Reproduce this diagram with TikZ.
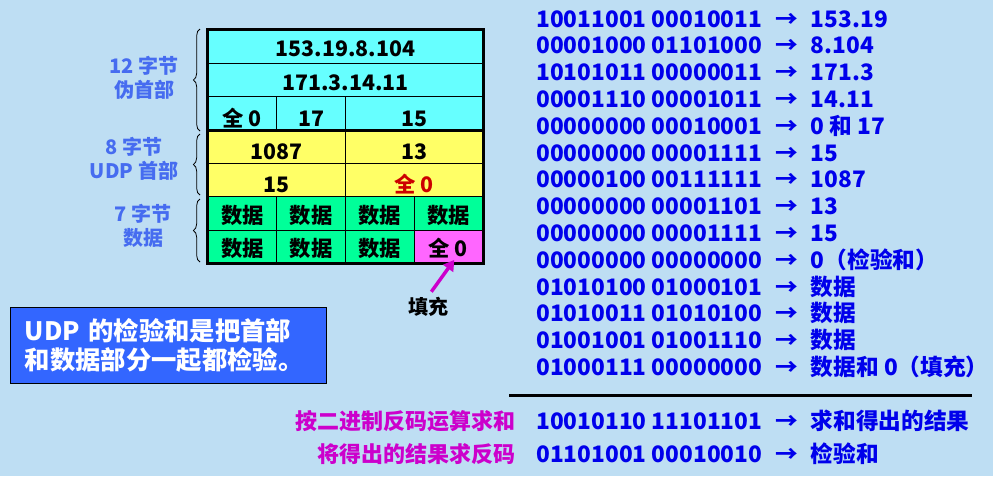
\documentclass[tikz,border=0pt]{standalone}
\usepackage{fontspec}
\setmainfont{Noto Sans CJK SC}
\usetikzlibrary{decorations.pathreplacing,arrows.meta}

\definecolor{bgblue}{RGB}{190,222,243}
\definecolor{pscyan}{RGB}{102,255,255}
\definecolor{udpyellow}{RGB}{255,255,102}
\definecolor{datagreen}{RGB}{0,255,153}
\definecolor{padpink}{RGB}{255,102,255}
\definecolor{notebox}{RGB}{51,102,255}
\definecolor{bitblue}{RGB}{0,0,235}
\definecolor{sideblue}{RGB}{70,108,240}
\definecolor{opmagenta}{RGB}{204,0,204}
\definecolor{zerored}{RGB}{204,0,0}

\newcommand{\low}[1]{\raisebox{-2pt}[\height][\depth]{#1}}

\tikzset{
  cell/.style={draw=black, line width=0.7pt, minimum height=25pt, minimum width=51.5pt,
    inner sep=0pt, text height=15pt, text depth=0pt, font=\fontsize{16}{18}\selectfont\bfseries},
  wide/.style={cell, minimum width=103pt},
  full/.style={cell, minimum width=206pt},
  side/.style={align=center, text=sideblue, inner sep=0pt, font=\fontsize{15}{18}\selectfont\bfseries},
  sidebrace/.style={decorate, decoration={brace, amplitude=5pt}, line width=0.6pt},
  bits/.style={anchor=west, text=bitblue, inner sep=0pt, text height=12pt, text depth=0pt,
    font=\fontsize{17}{20}\selectfont\bfseries},
  arrowtxt/.style={bits, anchor=center},
  optxt/.style={anchor=east, text=opmagenta, inner sep=0pt, text height=12pt, text depth=0pt,
    font=\fontsize{16.5}{20}\selectfont\bfseries},
  padarrow/.style={draw=opmagenta, line width=2.6pt, -{Triangle[length=8pt,width=9pt]}},
}

\begin{document}
\begin{tikzpicture}[x=1pt, y=-1pt]

\useasboundingbox (0,0) rectangle (744.75,357);
\fill[bgblue] (0,0) rectangle (744.75,357);

% pseudo header
\node[full, fill=pscyan] (ph1) at (259,35) {153.19.8.104};
\node[full, fill=pscyan] (ph2) at (259,60) {171.3.14.11};
\node[cell, fill=pscyan] (ph3) at (181.75,85) {\low{全 0}};
\node[cell, fill=pscyan] (ph4) at (233.25,85) {\low{17}};
\node[wide, fill=pscyan] (ph5) at (310.5,85) {\low{15}};

% udp header
\node[wide, fill=udpyellow] (uh1) at (207.5,110) {\low{1087}};
\node[wide, fill=udpyellow] (uh2) at (310.5,110) {\low{13}};
\node[wide, fill=udpyellow] (uh3) at (207.5,135) {\low{15}};
\node[wide, fill=udpyellow, text=zerored] (uh4) at (310.5,135) {\low{全 0}};

% data
\node[cell, fill=datagreen] (d1) at (181.75,160) {数据};
\node[cell, fill=datagreen] (d2) at (233.25,160) {数据};
\node[cell, fill=datagreen] (d3) at (284.75,160) {数据};
\node[cell, fill=datagreen] (d4) at (336.25,160) {数据};
\node[cell, fill=datagreen] (d5) at (181.75,185) {数据};
\node[cell, fill=datagreen] (d6) at (233.25,185) {数据};
\node[cell, fill=datagreen] (d7) at (284.75,185) {数据};
\node[cell, fill=padpink] (pad) at (336.25,185) {全 0};

\draw[line width=2.2pt] (ph1.north west) rectangle (pad.south east);
\draw[line width=2.2pt] (ph3.south west) -- (ph5.south east);

\node[side] (lab1) at (108,58.1) {12 字节\\伪首部};
\node[side] (lab2) at (100.5,118.9) {8 字节\\UDP 首部};
\node[side] (lab3) at (107.5,169.1) {7 字节\\数据};
\draw[sidebrace] (150,98.25) -- (150,21.75);
\draw[sidebrace] (150,146.25) -- (150,100.5);
\draw[sidebrace] (150,196.5) -- (150,149.25);

\node[font=\fontsize{15}{18}\selectfont\bfseries, inner sep=0pt] (fill) at (321,230.25) {填充};
\draw[padarrow] ([xshift=2.5pt,yshift=4pt]fill.north) -- ([xshift=4.5pt,yshift=3pt]pad.south);

\node[draw=black, line width=0.7pt, fill=notebox, text=white, minimum width=237pt, minimum height=57pt,
  inner xsep=11.25pt, text width=214.5pt, align=left, font=\fontsize{19}{21.75}\selectfont\bfseries]
  (note) at (126,258.75) {UDP 的检验和是把首部\\和数据部分一起都检验。};

% sixteen bit words
\foreach \bin/\res [count=\i] in {10011001 00010011/153.19, 00001000 01101000/8.104,
  10101011 00000011/171.3, 00001110 00001011/14.11, 00000000 00010001/0 和 17,
  00000000 00001111/15, 00000100 00111111/1087, 00000000 00001101/13,
  00000000 00001111/15, 00000000 00000000/0（检验和）, 01010100 01000101/数据,
  01010011 01010100/数据, 01001001 01001110/数据, 01000111 00000000/数据和 0（填充）}
{
  \node[bits] (b\i) at (402,{14.25+20.1*(\i-1)}) {\bin};
  \node[arrowtxt] (a\i) at (590,{14.25+20.1*(\i-1)}) {→};
  \node[bits] (r\i) at (608,{14.25+20.1*(\i-1)}) {\res};
}

\coordinate (rulel) at (381.75,296.25);
\coordinate (ruler) at (729,296.25);
\draw[line width=2.25pt] (rulel) -- (ruler);

\node[optxt] (op1) at (387,315.75) {按二进制反码运算求和};
\node[bits] (sum) at (402,315.75) {10010110 11101101};
\node[arrowtxt] (sumto) at (590,315.75) {→};
\node[bits] (sumres) at (608,315.75) {求和得出的结果};

\node[optxt] (op2) at (387,340.5) {将得出的结果求反码};
\node[bits] (chk) at (402,340.5) {01101001 00010010};
\node[arrowtxt] (chkto) at (590,340.5) {→};
\node[bits] (chkres) at (608,340.5) {检验和};

\end{tikzpicture}
\end{document}
